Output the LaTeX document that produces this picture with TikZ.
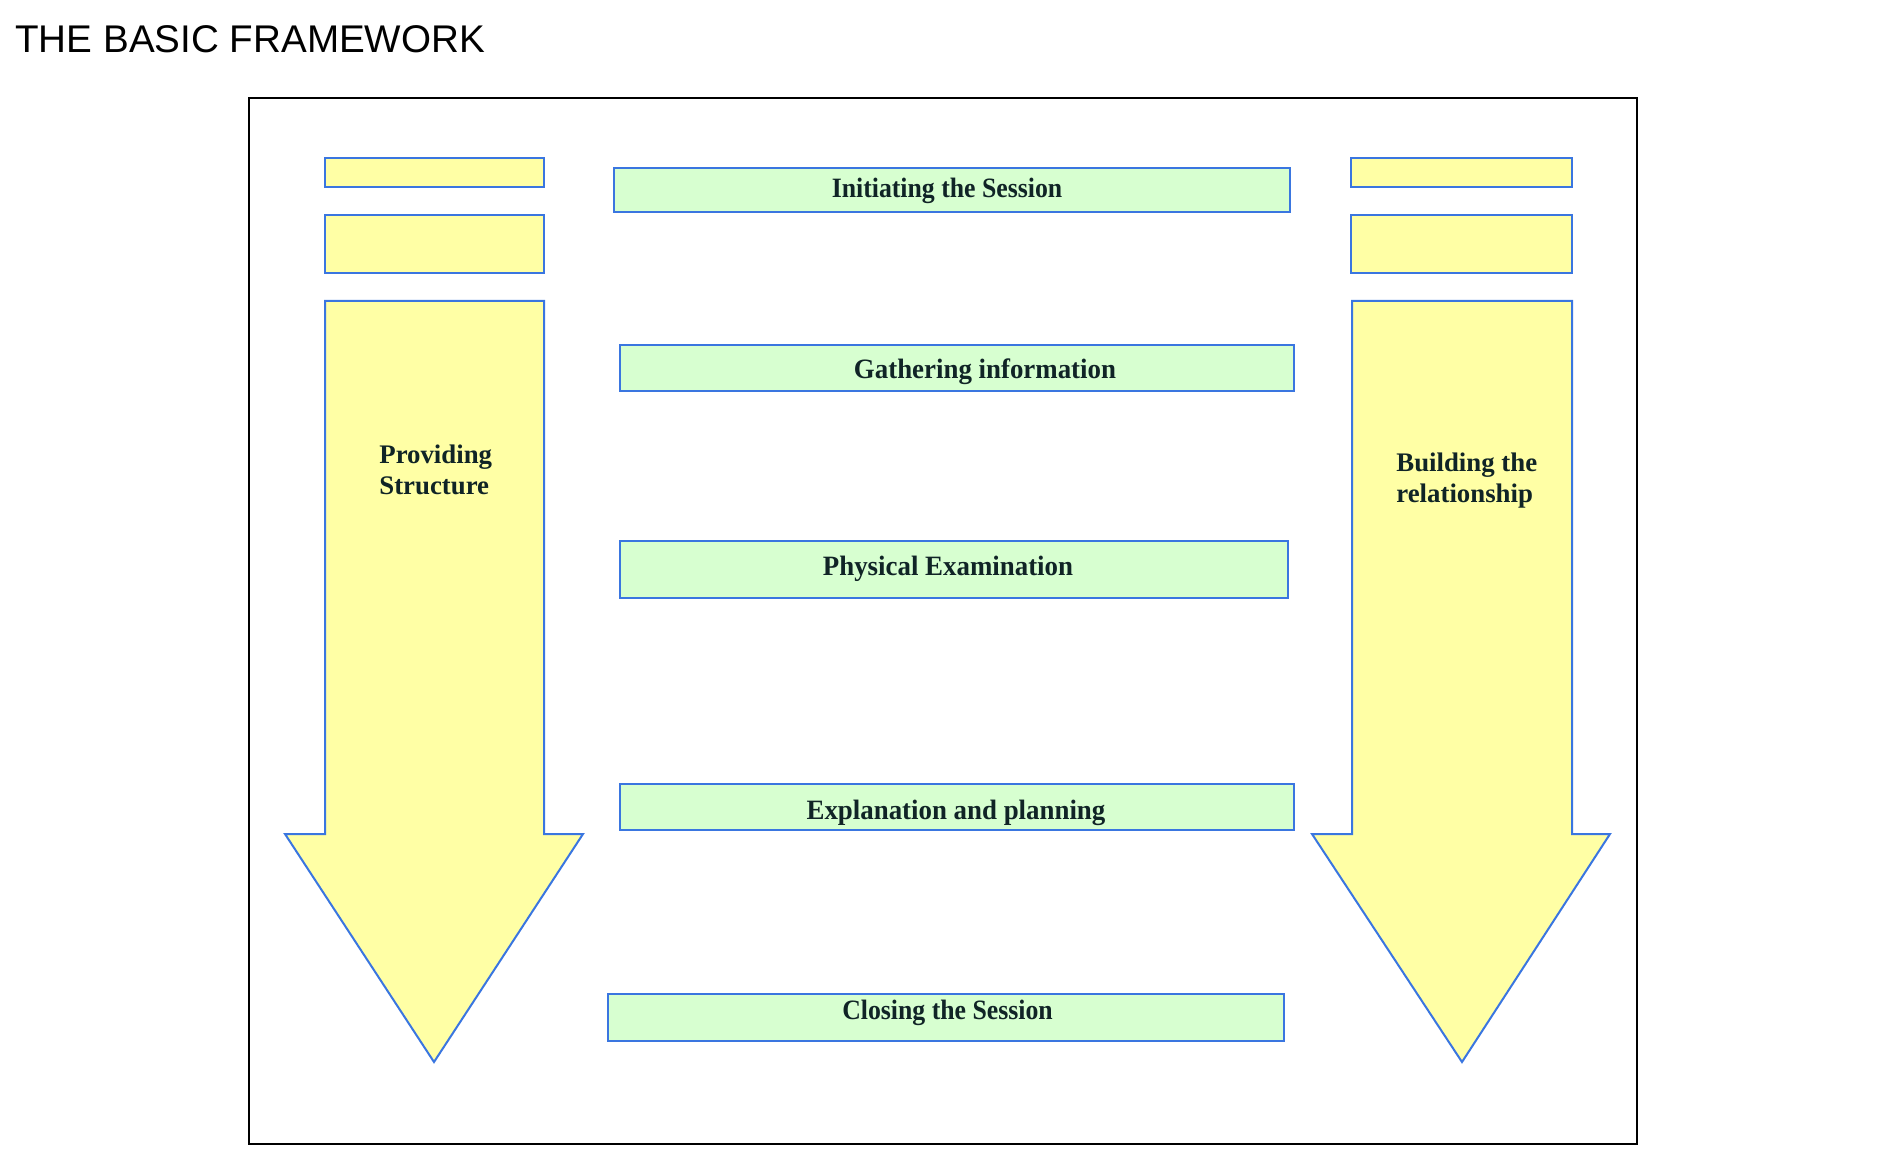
\documentclass[tikz,border=0pt]{standalone}
\usepackage{fontspec}
\setmainfont{Liberation Serif}
\newfontfamily\titlefont{Liberation Sans}
\newfontfamily\gfont{Liberation Serif}[FakeStretch=0.96]
\newfontfamily\gfontn{Liberation Serif}[FakeStretch=0.92]
\definecolor{yfill}{RGB}{255,255,165}
\definecolor{gfill}{RGB}{215,255,208}
\definecolor{bline}{RGB}{58,118,224}
\definecolor{tcol}{RGB}{16,36,38}
\begin{document}
\begin{tikzpicture}[x=0.5pt,y=-0.5pt,
  ybox/.style={draw=bline, fill=yfill, line width=1pt, inner sep=0pt},
  gbox/.style={draw=bline, fill=gfill, line width=1pt, inner sep=0pt},
  bigarrow/.style={draw=bline, fill=yfill, line width=1pt, line join=miter},
  gtext/.style={font=\gfont\bfseries\fontsize{14pt}{16pt}\selectfont, text=tcol, inner sep=0pt, anchor=base},
  gtextn/.style={gtext, font=\gfontn\bfseries\fontsize{14pt}{16pt}\selectfont},
  atext/.style={font=\bfseries\fontsize{13.4pt}{15.5pt}\selectfont, text=tcol, inner sep=0pt, align=left, anchor=north west}]
\useasboundingbox (0,0) rectangle (1880,1176);

% title
\node[anchor=base west, inner sep=0pt, font=\titlefont\fontsize{19.3pt}{22pt}\selectfont] (title) at (15,53) {THE BASIC FRAMEWORK};

% frame
\node[draw=black, line width=1pt, minimum width=694pt, minimum height=523pt, inner sep=0pt] (frame) at (943,621) {};

% left column
\node[ybox, minimum width=109.5pt, minimum height=14.5pt] (l1) at (434.5,172.5) {};
\node[ybox, minimum width=109.5pt, minimum height=29pt] (l2) at (434.5,244) {};
\draw[bigarrow] (325,301) -- (544,301) -- (544,834) -- (583,834) -- (434,1062) -- (285,834) -- (325,834) -- cycle;
\node[atext] (lt) at (379,444.5) {Providing\\Structure};

% right column
\node[ybox, minimum width=110.5pt, minimum height=14.5pt] (r1) at (1461.5,172.5) {};
\node[ybox, minimum width=110.5pt, minimum height=29pt] (r2) at (1461.5,244) {};
\draw[bigarrow] (1352,301) -- (1572,301) -- (1572,834) -- (1610,834) -- (1462,1062) -- (1312,834) -- (1352,834) -- cycle;
\node[atext] (rt) at (1396,452.5) {Building the\\relationship};

% stages
\node[gbox, minimum width=338pt, minimum height=22pt] (g1) at (952,190) {};
\node[gtextn] (g1t) at (947,198) {Initiating the Session};
\node[gbox, minimum width=337pt, minimum height=23pt] (g2) at (957,368) {};
\node[gtext] (g2t) at (985,378.5) {Gathering information};
\node[gbox, minimum width=334pt, minimum height=28.5pt] (g3) at (954,569.5) {};
\node[gtext] (g3t) at (948,575) {Physical Examination};
\node[gbox, minimum width=337pt, minimum height=23pt] (g4) at (957,807) {};
\node[gtext] (g4t) at (956,819) {Explanation and planning};
\node[gbox, minimum width=338pt, minimum height=23.5pt] (g5) at (946,1017) {};
\node[gtextn] (g5t) at (947.5,1019) {Closing the Session};
\end{tikzpicture}
\end{document}
